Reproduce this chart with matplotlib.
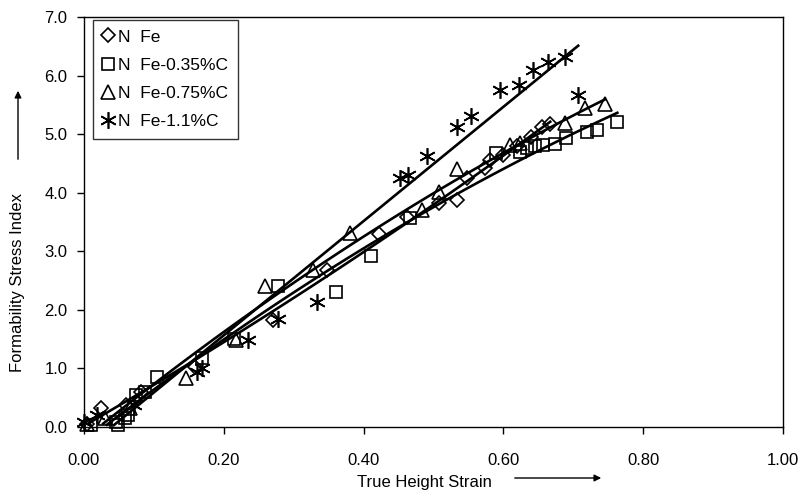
import numpy as np
import matplotlib
matplotlib.use("Agg")
import matplotlib.pyplot as plt
from matplotlib.patches import FancyArrowPatch

plt.rcParams['font.family'] = ['Liberation Sans', 'DejaVu Sans']

labels = ["N  Fe", "N  Fe-0.35%C", "N  Fe-0.75%C", "N  Fe-1.1%C"]

fe_x = [0.005, 0.025, 0.060, 0.081, 0.159, 0.271, 0.347, 0.422, 0.462, 0.508, 0.534,
        0.548, 0.574, 0.581, 0.600, 0.620, 0.640, 0.655, 0.667]
fe_y = [0.05, 0.32, 0.38, 0.60, 1.03, 1.82, 2.68, 3.30, 3.59, 3.82, 3.87,
        4.25, 4.42, 4.56, 4.65, 4.80, 4.95, 5.12, 5.17]

c35_x = [0.010, 0.046, 0.048, 0.059, 0.063, 0.074, 0.087, 0.105, 0.169, 0.214, 0.277,
         0.361, 0.411, 0.467, 0.590, 0.624, 0.634, 0.645, 0.657, 0.674, 0.690, 0.720,
         0.734, 0.763]
c35_y = [0.03, 0.09, 0.03, 0.15, 0.20, 0.55, 0.60, 0.86, 1.17, 1.51, 2.41,
         2.30, 2.92, 3.57, 4.68, 4.70, 4.76, 4.79, 4.81, 4.84, 4.93, 5.03,
         5.07, 5.21]

c75_x = [0.005, 0.030, 0.066, 0.146, 0.218, 0.259, 0.328, 0.381, 0.483, 0.508, 0.534,
         0.610, 0.624, 0.688, 0.717, 0.745]
c75_y = [0.05, 0.15, 0.32, 0.84, 1.49, 2.41, 2.68, 3.31, 3.71, 4.01, 4.40,
         4.81, 4.85, 5.19, 5.45, 5.51]

c11_x = [0.000, 0.019, 0.072, 0.162, 0.169, 0.235, 0.278, 0.334, 0.452, 0.464, 0.490,
         0.534, 0.553, 0.595, 0.623, 0.642, 0.664, 0.688, 0.707]
c11_y = [0.08, 0.20, 0.38, 0.94, 1.00, 1.49, 1.84, 2.13, 4.25, 4.30, 4.63,
         5.13, 5.31, 5.75, 5.84, 6.10, 6.24, 6.31, 5.67]

x_ticks = [0.0, 0.2, 0.4, 0.6, 0.8, 1.0]
x_ticklabels = ["0.00", "0.20", "0.40", "0.60", "0.80", "1.00"]
y_ticks = [0, 1, 2, 3, 4, 5, 6, 7]
y_ticklabels = ["0.0", "1.0", "2.0", "3.0", "4.0", "5.0", "6.0", "7.0"]

fig = plt.figure(figsize=(8.02, 4.95), dpi=100)
ax = fig.add_axes([84/802, 1-427/495, (783-84)/802, (427-17)/495])

series = [
    (fe_x, fe_y, 'D', 7.5, 2),
    (c35_x, c35_y, 's', 9, 2),
    (c75_x, c75_y, '^', 10, 2),
    (c11_x, c11_y, (6, 2, 0), 12, 1),
]

handles = []
for (xs, ys, mk, ms, deg), lab in zip(series, labels):
    xs = np.array(xs); ys = np.array(ys)
    h, = ax.plot(xs, ys, linestyle='none', marker=mk, markersize=ms,
                 markerfacecolor='none', markeredgecolor='black', markeredgewidth=1.2,
                 label=lab, clip_on=False, zorder=3)
    handles.append(h)
    coef = np.polyfit(xs, ys, deg)
    xf = np.linspace(xs.min(), xs.max(), 100)
    yf = np.polyval(coef, xf)
    m = yf >= 0
    ax.plot(xf[m], yf[m], color='black', lw=1.9, zorder=2)

ax.set_xlim(0, 1.0)
ax.set_ylim(0, 7.0)
ax.set_xticks(x_ticks)
ax.set_xticklabels(x_ticklabels)
ax.set_yticks(y_ticks)
ax.set_yticklabels(y_ticklabels)
ax.tick_params(direction='out', length=5, width=1, labelsize=12, color='black')
ax.tick_params(axis='x', pad=14)
ax.tick_params(axis='y', pad=7)
for s in ax.spines.values():
    s.set_linewidth(1.0)
    s.set_color('black')

leg = ax.legend(handles=handles, loc='upper left', bbox_to_anchor=(9/699, 0.993),
                frameon=True, fancybox=False, edgecolor='black', fontsize=12.5,
                handlelength=0.6, handletextpad=0.3, borderpad=0.55, labelspacing=0.75,
                borderaxespad=0)
leg.get_frame().set_linewidth(1.0)

fig.text(424/802, 1-482/495, "True Height Strain", ha='center', va='center', fontsize=12)
fig.text(18/802, 1-282/495, "Formability Stress Index", ha='center', va='center',
         rotation=90, fontsize=12)

fig.add_artist(FancyArrowPatch((512/802, 1-478/495), (604/802, 1-478/495),
                               transform=fig.transFigure, arrowstyle='-|>',
                               mutation_scale=10, color='black', lw=1.0))
fig.add_artist(FancyArrowPatch((18/802, 1-162/495), (18/802, 1-88/495),
                               transform=fig.transFigure, arrowstyle='-|>',
                               mutation_scale=10, color='black', lw=1.0))

fig.savefig("out.png", dpi=100)
